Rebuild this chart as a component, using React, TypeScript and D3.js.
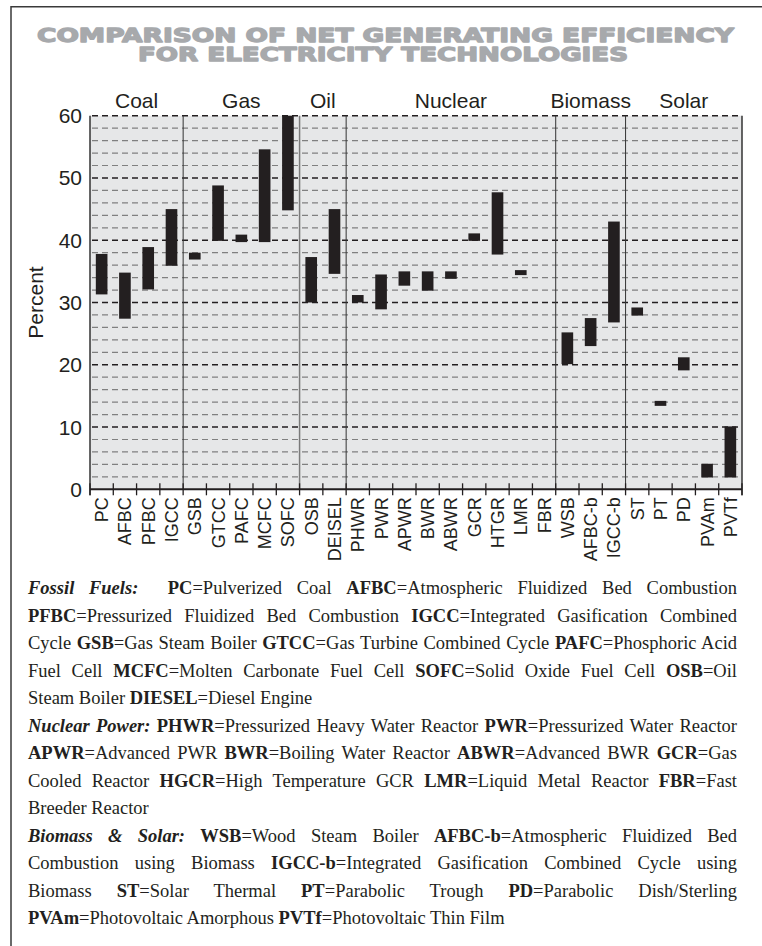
import React, { useLayoutEffect, useRef } from 'react';
import * as d3 from 'd3';

const W = 762;
const H = 946;

// Technologies along the x axis (axis spelling kept as printed)
const categories = [
  'PC', 'AFBC', 'PFBC', 'IGCC',
  'GSB', 'GTCC', 'PAFC', 'MCFC', 'SOFC',
  'OSB', 'DEISEL',
  'PHWR', 'PWR', 'APWR', 'BWR', 'ABWR', 'GCR', 'HTGR', 'LMR', 'FBR',
  'WSB', 'AFBC-b', 'IGCC-b',
  'ST', 'PT', 'PD', 'PVAm', 'PVTf',
];

// Efficiency range (percent): low and high end of each floating bar
const lowValues: (number | null)[] = [
  31.3, 27.4, 32.1, 35.9,
  36.9, 39.9, 39.7, 39.7, 44.8,
  30.0, 34.6,
  30.0, 28.9, 32.7, 31.9, 33.8, 39.9, 37.7, 34.4, null,
  20.1, 23.0, 26.8,
  27.9, 13.4, 19.1, 1.9, 1.9,
];
const highValues: (number | null)[] = [
  37.8, 34.8, 38.9, 45.0,
  38.0, 48.8, 40.9, 54.6, 60.0,
  37.3, 45.0,
  31.2, 34.5, 35.0, 35.0, 35.0, 41.1, 47.7, 35.2, null,
  25.2, 27.5, 43.0,
  29.2, 14.2, 21.2, 4.1, 10.1,
];

const groupNames = ['Coal', 'Gas', 'Oil', 'Nuclear', 'Biomass', 'Solar'];
const groupSizes = [4, 5, 2, 9, 3, 5];

const yTicks = [0, 10, 20, 30, 40, 50, 60];
const gridValues = d3.range(2, 61, 2);

const titleLines = [
  'COMPARISON OF NET GENERATING EFFICIENCY',
  'FOR ELECTRICITY TECHNOLOGIES',
];

// {heading}  [abbreviation]  plain text
const legendLines = [
  '{Fossil Fuels:}  [PC]=Pulverized Coal [AFBC]=Atmospheric Fluidized Bed Combustion',
  '[PFBC]=Pressurized Fluidized Bed Combustion [IGCC]=Integrated Gasification Combined',
  'Cycle [GSB]=Gas Steam Boiler [GTCC]=Gas Turbine Combined Cycle [PAFC]=Phosphoric Acid',
  'Fuel Cell [MCFC]=Molten Carbonate Fuel Cell [SOFC]=Solid Oxide Fuel Cell [OSB]=Oil',
  'Steam Boiler [DIESEL]=Diesel Engine',
  '{Nuclear Power:} [PHWR]=Pressurized Heavy Water Reactor [PWR]=Pressurized Water Reactor',
  '[APWR]=Advanced PWR [BWR]=Boiling Water Reactor [ABWR]=Advanced BWR [GCR]=Gas',
  'Cooled Reactor [HGCR]=High Temperature GCR [LMR]=Liquid Metal Reactor [FBR]=Fast',
  'Breeder Reactor',
  '{Biomass & Solar:} [WSB]=Wood Steam Boiler [AFBC-b]=Atmospheric Fluidized Bed',
  'Combustion using Biomass [IGCC-b]=Integrated Gasification Combined Cycle using',
  'Biomass [ST]=Solar Thermal [PT]=Parabolic Trough [PD]=Parabolic Dish/Sterling',
  '[PVAm]=Photovoltaic Amorphous [PVTf]=Photovoltaic Thin Film',
];
const legendJustified = [true, true, true, true, false, true, true, true, false, true, true, true, false];

type Part = { t: string; k: 'head' | 'bold' | 'plain' };

function parseLine(s: string): Part[] {
  const parts: Part[] = [];
  const re = /\{([^}]*)\}|\[([^\]]*)\]|([^{[]+)/g;
  let m: RegExpExecArray | null;
  while ((m = re.exec(s))) {
    if (m[1] !== undefined) parts.push({ t: m[1], k: 'head' });
    else if (m[2] !== undefined) parts.push({ t: m[2], k: 'bold' });
    else parts.push({ t: m[3], k: 'plain' });
  }
  return parts;
}

const SANS = '"Liberation Sans", Arial, Helvetica, sans-serif';
const SERIF = '"Liberation Serif", "Times New Roman", serif';

const plot = { left: 90, right: 742, top: 115.7, bottom: 489.3 };
const legend = { left: 28, right: 737, firstBaseline: 594, lineGap: 27.5, fontSize: 18.5 };

export default function App() {
  const ref = useRef<SVGSVGElement>(null);

  const x = d3.scaleBand<string>().domain(categories).range([plot.left, plot.right]).padding(0);
  const y = d3.scaleLinear().domain([0, 60]).range([plot.bottom, plot.top]);
  const bw = x.bandwidth();
  const barW = bw * 0.5;

  // index of the first category of each group
  const starts: number[] = [];
  groupSizes.reduce((acc, n) => {
    starts.push(acc);
    return acc + n;
  }, 0);

  // justify the key's lines by widening the gaps between words
  useLayoutEffect(() => {
    const svg = ref.current;
    if (!svg) return;
    svg.querySelectorAll<SVGTextElement>('text.legend-line').forEach((el) => {
      if (el.getAttribute('data-justify') !== '1') return;
      el.style.wordSpacing = '0px';
      const w = el.getComputedTextLength();
      const spaces = (el.textContent || '').split(' ').length - 1;
      if (spaces > 0) {
        const extra = (legend.right - legend.left - w) / spaces;
        el.style.wordSpacing = `${extra}px`;
      }
    });
  }, []);

  return (
    <svg
      ref={ref}
      width={W}
      height={H}
      viewBox={`0 0 ${W} ${H}`}
      style={{ position: 'absolute', left: 0, top: 0, background: '#ffffff' }}
    >
      {/* frame */}
      <path d={`M11,${H} L11,6.7 L${W},6.7`} fill="none" stroke="#3a3a3a" strokeWidth={1.5} />

      {/* title */}
      <g
        fontFamily='"DejaVu Sans", Verdana, sans-serif'
        fontWeight="bold"
        fontSize={19}
        fill="#a7a9ac"
        stroke="#a7a9ac"
        strokeWidth={1.3}
        strokeLinejoin="round"
      >
        <text x={37} y={42} textLength={697} lengthAdjust="spacingAndGlyphs">{titleLines[0]}</text>
        <text x={138} y={60.5} textLength={490} lengthAdjust="spacingAndGlyphs">{titleLines[1]}</text>
      </g>

      {/* plot background */}
      <rect x={plot.left} y={plot.top} width={plot.right - plot.left} height={plot.bottom - plot.top} fill="#e6e7e8" />

      {/* dashed grid */}
      {gridValues.map((v) => {
        const major = v % 10 === 0;
        return (
          <line
            key={v}
            x1={plot.left + 2}
            x2={plot.right}
            y1={y(v)}
            y2={y(v)}
            stroke={major ? '#231f20' : '#808080'}
            strokeWidth={major ? 1.4 : 1.2}
            strokeDasharray="6 4"
          />
        );
      })}

      {/* group separators */}
      {starts.slice(1).map((s, i) => {
        const gx = x(categories[s]) as number;
        const soft = i === 1;
        return (
          <line
            key={s}
            x1={gx}
            x2={gx}
            y1={plot.top}
            y2={plot.bottom}
            stroke={soft ? '#7a7a7a' : '#333333'}
            strokeWidth={soft ? 1.5 : 1}
          />
        );
      })}

      {/* floating bars */}
      {categories.map((c, i) => {
        const lo = lowValues[i];
        const hi = highValues[i];
        if (lo === null || hi === null) return null;
        const cx = (x(c) as number) + bw / 2;
        return (
          <rect key={c} x={cx - barW / 2} y={y(hi)} width={barW} height={y(lo) - y(hi)} fill="#231f20" />
        );
      })}

      {/* plot edges */}
      <line x1={plot.left} x2={plot.left} y1={plot.top} y2={plot.bottom + 6} stroke="#333333" strokeWidth={1.5} />
      <line x1={plot.right} x2={plot.right} y1={plot.top} y2={plot.bottom + 6} stroke="#333333" strokeWidth={1.5} />
      <line x1={plot.left} x2={plot.right} y1={plot.bottom} y2={plot.bottom} stroke="#231f20" strokeWidth={2} />

      {/* x ticks at band edges */}
      {d3.range(categories.length + 1).map((i) => {
        const tx = plot.left + i * bw;
        return <line key={i} x1={tx} x2={tx} y1={plot.bottom - 6} y2={plot.bottom + 6} stroke="#231f20" strokeWidth={1.3} />;
      })}

      {/* y tick labels and axis title */}
      <g fontFamily={SANS} fontSize={21} fill="#231f20">
        {yTicks.map((t) => (
          <text key={t} x={82} y={y(t)} textAnchor="end" dominantBaseline="central">
            {t}
          </text>
        ))}
        <text transform={`translate(43, ${(plot.top + plot.bottom) / 2}) rotate(-90)`} textAnchor="middle">
          Percent
        </text>
      </g>

      {/* group labels */}
      <g fontFamily={SANS} fontSize={21} fill="#231f20">
        {groupNames.map((g, i) => {
          const first = x(categories[starts[i]]) as number;
          const cx = first + (groupSizes[i] * bw) / 2;
          return (
            <text key={g} x={cx} y={108} textAnchor="middle">
              {g}
            </text>
          );
        })}
      </g>

      {/* category labels */}
      <g fontFamily={SANS} fontSize={18} fill="#231f20">
        {categories.map((c) => {
          const cx = (x(c) as number) + bw / 2;
          return (
            <text key={c} transform={`translate(${cx + 6.5}, ${plot.bottom + 8}) rotate(-90)`} textAnchor="end">
              {c}
            </text>
          );
        })}
      </g>

      {/* abbreviations key */}
      <g fontFamily={SERIF} fontSize={legend.fontSize} fill="#231f20">
        {legendLines.map((line, li) => (
          <text
            key={li}
            className="legend-line"
            data-justify={legendJustified[li] ? '1' : '0'}
            x={legend.left}
            y={legend.firstBaseline + li * legend.lineGap}
            style={{ whiteSpace: 'pre' }}
          >
            {parseLine(line).map((p, pi) => (
              <tspan
                key={pi}
                fontWeight={p.k === 'plain' ? 'normal' : 'bold'}
                fontStyle={p.k === 'head' ? 'italic' : 'normal'}
              >
                {p.t}
              </tspan>
            ))}
          </text>
        ))}
      </g>
    </svg>
  );
}
